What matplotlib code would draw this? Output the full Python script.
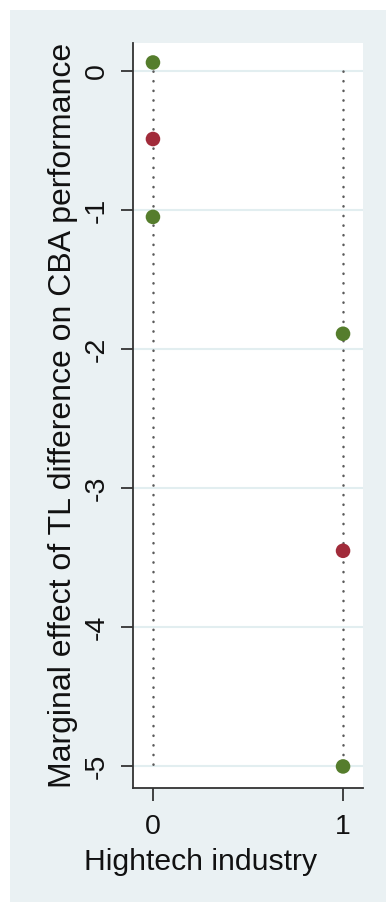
import matplotlib
matplotlib.use("Agg")
import matplotlib.pyplot as plt
from matplotlib.patches import Rectangle

# Data
hightech = [0, 1]
upper = [0.06, -1.89]
estimate = [-0.49, -3.45]
lower = [-1.05, -5.0]
yticks = [0, -1, -2, -3, -4, -5]
xticks = [0, 1]
ref_span = [0, -5]

plt.rcParams['font.family'] = ['Liberation Sans', 'DejaVu Sans']

W, H = 386, 902
fig = plt.figure(figsize=(W / 100, H / 100), dpi=100)
fig.patch.set_facecolor('white')
bg = Rectangle((10 / W, 0), 1 - 10 / W, 1 - 10 / H, transform=fig.transFigure,
               facecolor='#eaf1f3', edgecolor='none', zorder=-10)
fig.patches.append(bg)

ax = fig.add_axes([133 / W, 1 - 788 / H, (363 - 133) / W, (788 - 43) / H])
ax.set_facecolor('white')

green = '#557d2c'
red = '#a12b3a'

for x in hightech:
    ax.plot([x, x], ref_span, color='#5a5a5a', lw=1.8,
            linestyle=(0, (0.1, 3.75)), dash_capstyle='round', zorder=2)

ax.scatter(hightech, upper, s=110, color=green, zorder=3, edgecolors='none')
ax.scatter(hightech, estimate, s=110, color=red, zorder=3, edgecolors='none')
ax.scatter(hightech, lower, s=110, color=green, zorder=3, edgecolors='none')

ax.set_xlim(-0.105, 1.105)
ax.set_ylim(-5.155, 0.2)
ax.set_yticks(yticks)
ax.set_yticklabels([str(t) for t in yticks], rotation=90, va='center', fontsize=20.5)
ax.set_xticks(xticks)
ax.set_xticklabels([str(t) for t in xticks], fontsize=20.5)
ax.grid(axis='y', color='#e2eef0', lw=1.5, zorder=0)
ax.set_axisbelow(True)

for s in ['top', 'right']:
    ax.spines[s].set_visible(False)
for s in ['left', 'bottom']:
    ax.spines[s].set_color('#333333')
    ax.spines[s].set_linewidth(1.3)
ax.tick_params(axis='both', length=9, width=1.3, color='#333333',
               labelcolor='#111111')
ax.tick_params(axis='y', pad=7.5)
ax.tick_params(axis='x', pad=9.5)

ax.set_ylabel('Marginal effect of TL difference on CBA performance', fontsize=23,
              color='#111111', va='center', ha='center')
ax.yaxis.set_label_coords((63 - 133) / 230, 0.5)
ax.set_xlabel('Hightech industry', fontsize=21.7, color='#111111',
              va='center', ha='center')
ax.xaxis.set_label_coords((201 - 133) / 230, (788 - 862) / 745)

fig.savefig('out.png', dpi=100)
